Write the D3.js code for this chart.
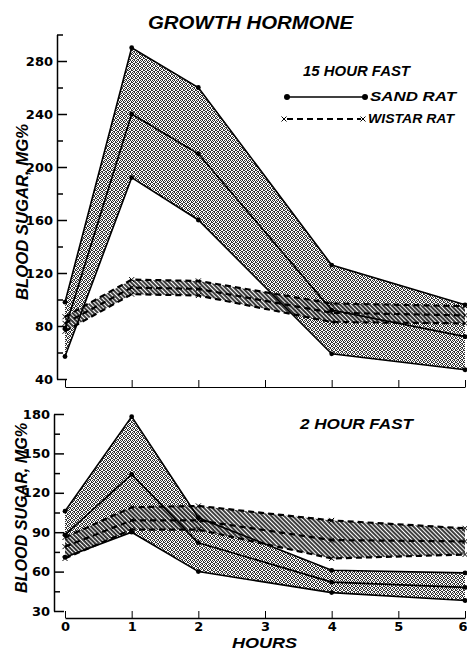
<!DOCTYPE html>
<html>
<head>
<meta charset="utf-8">
<script src="https://cdn.jsdelivr.net/npm/d3@7"></script>
<style>
  body { margin: 0; background: #fff; }
  svg { display: block; }
  .tick text { font-family: "DejaVu Sans", sans-serif; font-weight: bold; font-size: 13px; }
  .lbl { font-family: "Liberation Sans", Arial, sans-serif; font-weight: bold; font-style: italic; }
</style>
</head>
<body>
<script>
var width = 467,
  height = 650;

// hours at which blood sugar was sampled
var hours = [0, 1, 2, 4, 6];

// 15 hour fast (mg%)
var fast15SandHigh = [98, 290, 260, 126, 96];
var fast15SandMean = [78, 240, 210, 92, 72];
var fast15SandLow = [57, 192, 160, 59, 47];
var fast15WistarHigh = [87, 115, 114, 97, 95];
var fast15WistarMean = [82, 109, 108, 90, 88];
var fast15WistarLow = [76, 104, 103, 83, 82];

// 2 hour fast (mg%)
var fast2SandHigh = [106, 178, 101, 61, 59];
var fast2SandMean = [88, 134, 82, 52, 48];
var fast2SandLow = [71, 90, 60, 44, 38];
var fast2WistarHigh = [86, 109, 110, 99, 93];
var fast2WistarMean = [79, 99, 99, 84, 83];
var fast2WistarLow = [70, 92, 92, 70, 73];

var xTicks = [0, 1, 2, 3, 4, 5, 6];

var svg = d3.select("body")
  .append("svg")
  .attr("width", width)
  .attr("height", height);

//----------patterns----------
var defs = svg.append("defs");
var stip = defs.append("pattern")
  .attr("id", "stipple")
  .attr("patternUnits", "userSpaceOnUse")
  .attr("width", 4)
  .attr("height", 4);
[[0, 0], [2, 0], [1, 1], [3, 2], [0, 2], [2, 3], [1, 3], [3, 1]].forEach(function (p) {
  stip.append("rect").attr("x", p[0]).attr("y", p[1])
    .attr("width", 1).attr("height", 1).attr("fill", "#333");
});
var hatch = defs.append("pattern")
  .attr("id", "hatch")
  .attr("patternUnits", "userSpaceOnUse")
  .attr("width", 3)
  .attr("height", 3)
  .attr("patternTransform", "rotate(-45)");
hatch.append("rect").attr("width", 3).attr("height", 3).attr("fill", "#fff");
hatch.append("line")
  .attr("x1", 1).attr("y1", 0).attr("x2", 1).attr("y2", 3)
  .attr("stroke", "#111").attr("stroke-width", 1.8);

//----------x scale (shared)----------
var xScale = d3.scaleLinear()
  .domain([0, 6])
  .range([65, 465]);

function panel(opt) {
  var g = svg.append("g");
  var y = d3.scaleLinear().domain(opt.domain).range(opt.range);

  var sand = hours.map(function (h, i) {
    return {h: h, hi: opt.sand[0][i], mean: opt.sand[1][i], lo: opt.sand[2][i]};
  });
  var wist = hours.map(function (h, i) {
    return {h: h, hi: opt.wistar[0][i], mean: opt.wistar[1][i], lo: opt.wistar[2][i]};
  });

  var area = d3.area()
    .x(function (d) { return xScale(d.h); })
    .y0(function (d) { return y(d.lo); })
    .y1(function (d) { return y(d.hi); });

  g.append("path").datum(sand).attr("d", area).attr("fill", "url(#stipple)");
  g.append("path").datum(wist).attr("d", area).attr("fill", "url(#hatch)").attr("opacity", 0.9);

  ["hi", "mean", "lo"].forEach(function (k) {
    var line = d3.line()
      .x(function (d) { return xScale(d.h); })
      .y(function (d) { return y(d[k]); });
    g.append("path").datum(sand).attr("d", line)
      .attr("fill", "none").attr("stroke", "#000").attr("stroke-width", 1.6);
    g.selectAll(null).data(sand).enter().append("circle")
      .attr("cx", function (d) { return xScale(d.h); })
      .attr("cy", function (d) { return y(d[k]); })
      .attr("r", 2.4);
    g.append("path").datum(wist).attr("d", line)
      .attr("fill", "none").attr("stroke", "#000").attr("stroke-width", 2.2)
      .attr("stroke-dasharray", "6,4");
    g.selectAll(null).data(wist).enter().append("path")
      .attr("transform", function (d) {
        return "translate(" + xScale(d.h) + "," + y(d[k]) + ")";
      })
      .attr("d", "M-2.5,-2.5L2.5,2.5M-2.5,2.5L2.5,-2.5")
      .attr("stroke", "#000").attr("stroke-width", 1);
  });

  //----------Y axis----------
  var yAxis = d3.axisLeft(y)
    .tickValues(opt.major)
    .tickSizeInner(-10)
    .tickSizeOuter(0)
    .tickPadding(4)
    .tickFormat(d3.format("d"));
  var ya = g.append("g")
    .attr("transform", "translate(" + opt.axisX + ",0)")
    .call(yAxis);
  ya.selectAll(".tick line").attr("stroke-width", 1.5);
  ya.select(".domain").attr("stroke-width", 1.5);

  g.append("g")
    .attr("transform", "translate(" + opt.axisX + ",0)")
    .call(d3.axisLeft(y).tickValues(opt.minor).tickSizeInner(-6).tickSizeOuter(0).tickFormat(""))
    .call(function (s) { s.select(".domain").remove(); })
    .selectAll(".tick line").attr("stroke-width", 1.5);

  //----------X axis----------
  var xAxis = d3.axisBottom(xScale)
    .tickValues(xTicks)
    .tickSizeInner(-7)
    .tickSizeOuter(0)
    .tickPadding(4)
    .tickFormat(opt.xLabels ? d3.format("d") : "");
  var xa = g.append("g")
    .attr("transform", "translate(0," + opt.axisY + ")")
    .call(xAxis);
  xa.select(".domain").attr("stroke-width", opt.xLabels ? 1.5 : 1);
  // last label sits on the page edge
  xa.selectAll(".tick text")
    .filter(function (d) { return d === 6; })
    .attr("text-anchor", "end")
    .attr("x", 2);

  //----------labels----------
  g.append("text")
    .attr("class", "lbl")
    .attr("transform", "translate(" + opt.yLabelX + "," + opt.yLabelY + ") rotate(-90)")
    .attr("text-anchor", "middle")
    .attr("dy", "0.35em")
    .attr("font-size", 16)
    .attr("textLength", opt.yLabelLen)
    .attr("lengthAdjust", "spacingAndGlyphs")
    .text("BLOOD SUGAR, MG%");

  g.append("text")
    .attr("class", "lbl")
    .attr("x", opt.titleX)
    .attr("y", opt.titleY)
    .attr("font-size", 14)
    .attr("textLength", opt.titleLen)
    .attr("lengthAdjust", "spacingAndGlyphs")
    .text(opt.title);

  return y;
}

panel({
  domain: [40, 300],
  range: [379, 34.5],
  major: [40, 80, 120, 160, 200, 240, 280],
  minor: [60, 100, 140, 180, 220, 260, 300],
  sand: [fast15SandHigh, fast15SandMean, fast15SandLow],
  wistar: [fast15WistarHigh, fast15WistarMean, fast15WistarLow],
  axisX: 57,
  axisY: 387,
  xLabels: false,
  yLabelX: 22,
  yLabelY: 212,
  yLabelLen: 176,
  title: "15 HOUR FAST",
  titleX: 303,
  titleY: 76,
  titleLen: 107
});

panel({
  domain: [30, 180],
  range: [611, 414],
  major: [30, 60, 90, 120, 150, 180],
  minor: [45, 75, 105, 135, 165],
  sand: [fast2SandHigh, fast2SandMean, fast2SandLow],
  wistar: [fast2WistarHigh, fast2WistarMean, fast2WistarLow],
  axisX: 54,
  axisY: 618,
  xLabels: true,
  yLabelX: 21,
  yLabelY: 508,
  yLabelLen: 170,
  title: "2 HOUR FAST",
  titleX: 300,
  titleY: 429,
  titleLen: 113
});

//----------Title----------
svg.append("text")
  .attr("class", "lbl")
  .attr("x", 148)
  .attr("y", 29)
  .attr("font-size", 18)
  .attr("font-weight", "normal")
  .attr("textLength", 205)
  .attr("lengthAdjust", "spacingAndGlyphs")
  .text("GROWTH HORMONE");

svg.append("text")
  .attr("class", "lbl")
  .attr("x", 232)
  .attr("y", 648)
  .attr("font-size", 15)
  .attr("textLength", 65)
  .attr("lengthAdjust", "spacingAndGlyphs")
  .text("HOURS");

//----------Legend----------
var legend = svg.append("g");
legend.append("line")
  .attr("x1", 287).attr("x2", 365).attr("y1", 97).attr("y2", 97)
  .attr("stroke", "#000").attr("stroke-width", 1.5);
legend.selectAll(null).data([287, 365]).enter().append("circle")
  .attr("cx", function (d) { return d; }).attr("cy", 97).attr("r", 3);
legend.append("line")
  .attr("x1", 287).attr("x2", 361).attr("y1", 119).attr("y2", 119)
  .attr("stroke", "#000").attr("stroke-width", 2).attr("stroke-dasharray", "6,4");
legend.selectAll(null).data([284, 363]).enter().append("path")
  .attr("transform", function (d) { return "translate(" + d + ",119)"; })
  .attr("d", "M-2.5,-2.5L2.5,2.5M-2.5,2.5L2.5,-2.5")
  .attr("stroke", "#000").attr("stroke-width", 1);
legend.append("text").attr("class", "lbl")
  .attr("x", 370).attr("y", 101).attr("font-size", 12)
  .attr("textLength", 86).attr("lengthAdjust", "spacingAndGlyphs")
  .text("SAND RAT");
legend.append("text").attr("class", "lbl")
  .attr("x", 368).attr("y", 123).attr("font-size", 12)
  .attr("textLength", 86).attr("lengthAdjust", "spacingAndGlyphs")
  .text("WISTAR RAT");
</script>
</body>
</html>
